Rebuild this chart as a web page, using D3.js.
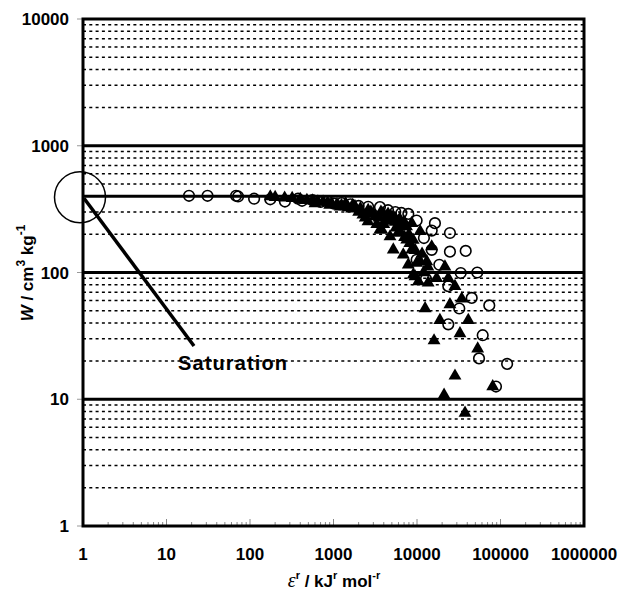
<!DOCTYPE html>
<html>
<head>
<meta charset="utf-8">
<script src="https://cdn.jsdelivr.net/npm/d3@7"></script>
<style>
  body { margin: 0; background: #fff; }
  svg { font-family: "Liberation Sans", Arial, sans-serif; }
  .tick-label { font-size: 17px; font-weight: bold; }
  .title { font-size: 17px; font-weight: bold; }
</style>
</head>
<body>
<svg width="624" height="591"></svg>
<script>
// **** Data ****
var xTicks = [1, 10, 100, 1000, 10000, 100000, 1000000];
var yTicks = [1, 10, 100, 1000, 10000];
var saturationW = 400;

// open circles: [epsilon^r, W]
var openCircles = [
  [18.6, 403], [31, 403], [68, 403], [72, 398], [112, 382], [175, 378], [262, 363],
  [376, 382], [420, 368], [560, 372], [700, 360], [850, 365], [1000, 350], [1250, 353],
  [1600, 345], [2000, 335], [2600, 330], [3600, 328], [4500, 310], [5500, 300],
  [6500, 295], [7870, 290], [9900, 257], [16400, 245], [15000, 214], [24800, 205],
  [12100, 187], [15000, 151], [24800, 146], [38300, 148], [18500, 115], [9900, 126],
  [33400, 99], [52700, 100], [12800, 89], [23700, 78], [45200, 63], [73400, 55],
  [32100, 52], [23700, 39], [61200, 32], [55300, 21], [120000, 19], [88300, 12.6]
];

// filled triangles: [epsilon^r, W]
var filledTriangles = [
  [175, 397], [200, 393], [260, 388], [320, 385], [400, 378], [480, 372], [560, 368],
  [650, 362], [750, 360], [850, 355], [950, 350], [1100, 345], [1250, 338], [1370, 332],
  [1500, 325], [1650, 318], [1810, 332], [2000, 300], [2250, 285], [2400, 270],
  [2590, 253], [2800, 300], [3140, 277], [3300, 240], [3500, 270], [3600, 217],
  [3780, 217], [3920, 294], [4000, 240], [4200, 260], [4500, 290], [4750, 192],
  [5000, 275], [5200, 151], [5450, 269], [5500, 250], [5920, 205], [6000, 240],
  [6200, 265], [6560, 231], [6850, 138], [7000, 250], [7500, 230], [7530, 181],
  [7870, 115], [8000, 200], [8650, 245], [8650, 151], [9000, 180], [9030, 96],
  [9460, 93], [9920, 119], [10400, 85], [10900, 211], [10900, 122], [12500, 52],
  [13100, 122], [13500, 111], [13600, 83], [15000, 160], [16000, 29], [17200, 90],
  [18800, 42], [21100, 10.8], [21600, 111], [23700, 90], [24800, 56], [28500, 78],
  [28500, 15.3], [32700, 33], [34300, 62], [37600, 7.8], [41100, 42], [53300, 25],
  [80700, 12.6],
  // denser part of the knee
  [600, 350], [900, 340], [1200, 330], [1400, 350], [1700, 340], [2100, 320],
  [2600, 310], [3000, 290], [3700, 300], [4300, 275], [4800, 255], [5600, 225],
  [6300, 210], [7100, 190], [8200, 170], [9500, 150], [11500, 140], [12000, 100]
];

// **** Scales ****
var xScale = d3.scaleLog().domain([1, 1000000]).range([83, 584]);
var yScale = d3.scaleLog().domain([1, 10000]).range([526, 19]);

var svg = d3.select('svg');

// minor dashed gridlines (2..9 in every decade)
var minorW = [];
for (var d = 1; d < 10000; d *= 10) {
  for (var k = 2; k <= 9; k++) minorW.push(d * k);
}
svg.append('g').selectAll('line')
  .data(minorW)
  .enter().append('line')
  .attr('x1', xScale(1)).attr('x2', xScale(1000000))
  .attr('y1', function(d) { return yScale(d); })
  .attr('y2', function(d) { return yScale(d); })
  .attr('stroke', '#000').attr('stroke-width', 1.5)
  .attr('stroke-dasharray', '3,3.3');

// major solid gridlines + saturation line
svg.append('g').selectAll('line')
  .data([10, 100, 1000, saturationW])
  .enter().append('line')
  .attr('x1', xScale(1)).attr('x2', xScale(1000000))
  .attr('y1', function(d) { return yScale(d); })
  .attr('y2', function(d) { return yScale(d); })
  .attr('stroke', '#000').attr('stroke-width', 3);

// x-axis ticks (inside, at bottom, gray)
var xMinor = [];
for (var d2 = 1; d2 < 1000000; d2 *= 10) {
  for (var k2 = 1; k2 <= 9; k2++) xMinor.push(d2 * k2);
}
svg.append('g').selectAll('line')
  .data(xMinor)
  .enter().append('line')
  .attr('x1', function(d) { return xScale(d); })
  .attr('x2', function(d) { return xScale(d); })
  .attr('y1', yScale(1) - 1)
  .attr('y2', function(d) { return yScale(1) - (xTicks.indexOf(d) >= 0 ? 7 : 4); })
  .attr('stroke', '#888').attr('stroke-width', 1);

// y-axis major ticks (outside, gray)
svg.append('g').selectAll('line')
  .data(yTicks)
  .enter().append('line')
  .attr('x1', xScale(1) - 6).attr('x2', xScale(1))
  .attr('y1', function(d) { return yScale(d); })
  .attr('y2', function(d) { return yScale(d); })
  .attr('stroke', '#999').attr('stroke-width', 1);

// **** Data points ****
svg.append('g').selectAll('circle')
  .data(openCircles)
  .enter().append('circle')
  .attr('cx', function(d) { return xScale(d[0]); })
  .attr('cy', function(d) { return yScale(d[1]); })
  .attr('r', 5.3)
  .attr('fill', 'none').attr('stroke', '#000').attr('stroke-width', 1.6);

var tri = d3.symbol().type(d3.symbolTriangle).size(72);
svg.append('g').selectAll('path')
  .data(filledTriangles)
  .enter().append('path')
  .attr('d', tri)
  .attr('transform', function(d) { return 'translate(' + xScale(d[0]) + ',' + yScale(d[1]) + ')'; })
  .attr('fill', '#000');

// plot frame
svg.append('rect')
  .attr('x', xScale(1)).attr('y', yScale(10000))
  .attr('width', xScale(1000000) - xScale(1))
  .attr('height', yScale(1) - yScale(10000))
  .attr('fill', 'none').attr('stroke', '#000').attr('stroke-width', 3);

// tick labels
svg.append('g').selectAll('text')
  .data(xTicks)
  .enter().append('text')
  .attr('class', 'tick-label')
  .attr('x', function(d) { return xScale(d); })
  .attr('y', 560)
  .attr('text-anchor', 'middle')
  .text(function(d) { return d; });

svg.append('g').selectAll('text')
  .data(yTicks)
  .enter().append('text')
  .attr('class', 'tick-label')
  .attr('x', 69)
  .attr('y', function(d) { return yScale(d) + 6; })
  .attr('text-anchor', 'end')
  .text(function(d) { return d; });

// **** Saturation annotation ****
svg.append('circle')
  .attr('cx', 80).attr('cy', yScale(saturationW) + 1)
  .attr('r', 25.5)
  .attr('fill', 'none').attr('stroke', '#000').attr('stroke-width', 1.5);
svg.append('line')
  .attr('x1', 84).attr('y1', yScale(saturationW) + 2)
  .attr('x2', 194).attr('y2', 346)
  .attr('stroke', '#000').attr('stroke-width', 3.5);
svg.append('text')
  .attr('x', 178).attr('y', 370)
  .attr('font-size', 20).attr('font-weight', 'bold')
  .attr('textLength', 109)
  .text('Saturation');

// **** Axis titles ****
var xt = svg.append('text')
  .attr('class', 'title')
  .attr('x', 334).attr('y', 587)
  .attr('text-anchor', 'middle');
xt.append('tspan').attr('font-family', '"Liberation Serif", "Times New Roman", serif')
  .attr('font-style', 'italic').attr('font-weight', 'normal').attr('font-size', 20).text('ε');
xt.append('tspan').attr('font-size', 11).attr('dy', -8).text('r');
xt.append('tspan').attr('dy', 8).text('  / kJ');
xt.append('tspan').attr('font-size', 11).attr('dy', -8).text('r');
xt.append('tspan').attr('dy', 8).text(' mol');
xt.append('tspan').attr('font-size', 11).attr('dy', -8).text('-r');

var yt = svg.append('text')
  .attr('class', 'title')
  .attr('transform', 'translate(33,273) rotate(-90)')
  .attr('text-anchor', 'middle')
  .attr('font-size', 19);
yt.append('tspan').attr('font-style', 'italic').text('W');
yt.append('tspan').text(' / cm');
yt.append('tspan').attr('font-size', 12).attr('dy', -8).text('3');
yt.append('tspan').attr('dy', 8).text(' kg');
yt.append('tspan').attr('font-size', 12).attr('dy', -8).text('-1');
</script>
</body>
</html>
